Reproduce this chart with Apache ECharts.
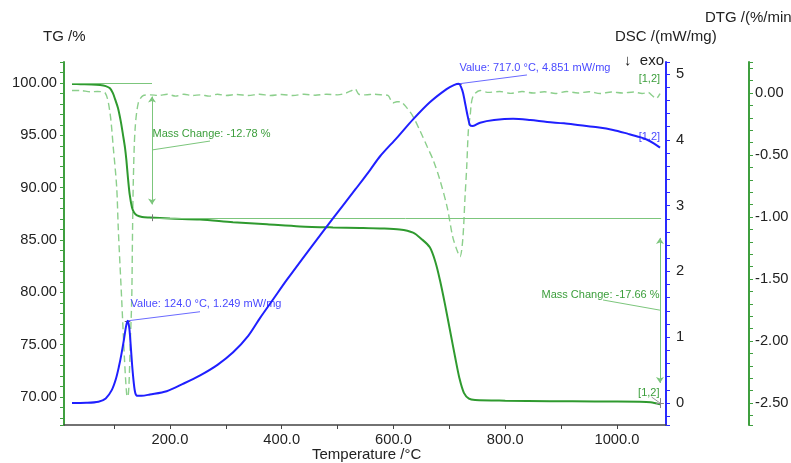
<!DOCTYPE html>
<html>
<head>
<meta charset="utf-8">
<title>TG-DSC-DTG</title>
<script src="https://cdn.jsdelivr.net/npm/echarts@6/dist/echarts.min.js"></script>
<style>
  html, body { margin: 0; padding: 0; background: #fff; }
  #chart { width: 791px; height: 463px; }
</style>
</head>
<body>
<div id="chart"></div>
<script>
// TG curve: temperature (°C) and mass (%)
var tgTemp = [24.6, 40, 60, 75, 85, 92.6, 98, 102, 106.9, 112, 116, 119.5, 122, 124.8, 128, 132, 136, 140.9, 150, 164, 200, 253.7, 312.7, 373.6, 432.6, 491.7, 540, 576, 611, 635, 650, 665, 675, 683, 692, 701, 710, 718, 726, 735, 746, 800, 880, 960, 1041, 1060, 1077];
var tgVal = [99.9, 99.88, 99.86, 99.8, 99.7, 99.5, 99.0, 98.4, 97.6, 96.3, 95.0, 93.8, 92.6, 90.9, 89.3, 88.1, 87.6, 87.35, 87.2, 87.15, 87.05, 86.95, 86.7, 86.5, 86.3, 86.2, 86.15, 86.1, 86.0, 85.7, 85.1, 84.3, 82.9, 81.2, 78.9, 76.4, 73.9, 71.8, 70.4, 69.85, 69.72, 69.65, 69.6, 69.58, 69.55, 69.5, 69.3];

// DSC curve: temperature (°C) and heat flow (mW/mg)
var dscTemp = [24.6, 50, 72, 85, 96, 103, 108.5, 113, 117.5, 121, 124, 127, 129.5, 132, 135, 138, 142, 149, 164, 194, 223, 254, 285, 313, 340, 361, 385, 409, 450, 492, 533, 558, 576, 606, 635, 665, 695, 708, 717, 721, 724.5, 729, 733, 737, 742, 755, 780, 814, 845, 875, 905, 934, 965, 993, 1020, 1041, 1054, 1065, 1077];
var dscVal = [0.0, 0.003, 0.02, 0.07, 0.2, 0.36, 0.55, 0.74, 0.96, 1.15, 1.249, 1.15, 0.9, 0.6, 0.32, 0.15, 0.11, 0.11, 0.13, 0.18, 0.29, 0.42, 0.58, 0.77, 1.02, 1.29, 1.58, 1.87, 2.34, 2.81, 3.26, 3.54, 3.75, 4.03, 4.31, 4.57, 4.77, 4.83, 4.851, 4.80, 4.71, 4.52, 4.35, 4.22, 4.21, 4.26, 4.3, 4.32, 4.3, 4.27, 4.25, 4.22, 4.19, 4.15, 4.09, 4.04, 4.0, 3.95, 3.88];

// DTG curve: temperature (°C) and rate (%/min)
var dtgTemp = [24.6, 40, 57, 70, 84, 92.6, 98.5, 104.6, 107.5, 113.6, 118.6, 122.5, 124.5, 126.6, 129, 131.5, 133, 134.4, 137.4, 143.3, 152.2, 165, 180, 195, 210, 225, 240, 255, 270, 285, 300, 320, 340, 360, 380, 400, 420, 440, 460, 480, 500, 515, 525, 531, 538, 550, 565, 580, 590, 599, 606, 612, 624, 635, 647, 660, 671, 683, 696, 706, 713, 719, 724, 728, 731, 734, 737, 742, 755, 770, 790, 810, 830, 850, 870, 890, 910, 930, 950, 970, 990, 1010, 1030, 1045, 1056, 1063, 1070, 1077];
var dtgVal = [0.02, 0.02, 0.01, 0.012, 0.0, -0.16, -0.44, -0.76, -1.10, -1.67, -2.15, -2.43, -2.45, -2.35, -2.0, -1.67, -1.1, -0.70, -0.30, -0.08, -0.02, -0.015, -0.02, -0.01, -0.025, -0.01, -0.02, -0.015, -0.025, -0.01, -0.02, -0.012, -0.02, -0.01, -0.02, -0.012, -0.02, -0.01, -0.018, -0.01, -0.015, 0.0, 0.02, 0.035, -0.01, -0.015, -0.01, -0.015, -0.02, -0.08, -0.07, -0.07, -0.12, -0.19, -0.30, -0.43, -0.54, -0.70, -0.92, -1.16, -1.26, -1.32, -1.18, -0.84, -0.60, -0.30, -0.19, -0.03, 0.02, 0.005, 0.012, -0.003, 0.012, 0.0, 0.01, -0.004, 0.012, 0.0, 0.01, -0.004, 0.008, 0.0, 0.008, -0.004, 0.004, -0.02, -0.045, -0.005];

// axis ranges
var tempRange = [10.3, 1087.7];
var tgRange = [67.33, 102.0];
var dscRange = [-0.334, 5.182];
var dtgRange = [-2.677, 0.25];

function pairs(xs, ys) {
  var out = [];
  for (var i = 0; i < xs.length; i++) out.push([xs[i], ys[i]]);
  return out;
}

var FONT = 'Liberation Sans, Arial, sans-serif';
var AX_GREEN = '#3f9f3f';
var AX_BLUE = '#2a2aff';
var NOTE_GREEN = '#7cc67c';
var TXT_GREEN = '#3b9e3b';
var TXT_BLUE = '#4a4aff';
var TICK_FS = 14.7;
var TITLE_FS = 15;

function textPoint(x, y, text, color, side) {
  return {
    coord: [x, y],
    symbol: 'circle',
    symbolSize: 1,
    itemStyle: { color: 'rgba(0,0,0,0)' },
    label: {
      show: true,
      position: side || 'right',
      distance: 0,
      formatter: text,
      color: color,
      fontSize: 11,
      fontFamily: FONT
    }
  };
}

function seg(x1, y1, x2, y2, color, arrows) {
  return [
    { coord: [x1, y1], symbol: arrows ? 'arrow' : 'none', lineStyle: { color: color, width: 1, type: 'solid' } },
    { coord: [x2, y2], symbol: arrows ? 'arrow' : 'none' }
  ];
}

function valueAxis(pos, offset, range, color, split, fmt, margin) {
  return {
    type: 'value',
    position: pos,
    offset: offset,
    min: range[0],
    max: range[1],
    splitNumber: split,
    scale: true,
    axisLine: { show: true, lineStyle: { color: color, width: 2 } },
    axisTick: { show: true, length: 4, lineStyle: { color: color, width: 1 } },
    minorTick: { show: true, splitNumber: 5, length: 4, lineStyle: { color: color, width: 1 } },
    splitLine: { show: false },
    axisLabel: {
      color: '#222', fontSize: TICK_FS, fontFamily: FONT, margin: margin,
      showMinLabel: false, showMaxLabel: false,
      formatter: fmt
    }
  };
}

var chart = echarts.init(document.getElementById('chart'));

var option = {
  animation: false,
  backgroundColor: '#fff',
  grid: { left: 64, right: 125, top: 62, bottom: 38, outerBoundsMode: 'none' },
  graphic: [
    { type: 'text', left: 43, top: 29, style: { text: 'TG /%', fontSize: TITLE_FS, fontFamily: FONT, fill: '#222' } },
    { type: 'text', left: 615, top: 29, style: { text: 'DSC /(mW/mg)', fontSize: TITLE_FS, fontFamily: FONT, fill: '#222' } },
    { type: 'text', left: 705, top: 10, style: { text: 'DTG /(%/min)', fontSize: TITLE_FS, fontFamily: FONT, fill: '#222' } },
    { type: 'text', left: 624, top: 53, style: { text: '\u2193  exo', fontSize: TITLE_FS, fontFamily: FONT, fill: '#222' } },
    { type: 'text', left: 312, top: 447, style: { text: 'Temperature /\u00b0C', fontSize: TITLE_FS, fontFamily: FONT, fill: '#222' } }
  ],
  xAxis: {
    type: 'value',
    min: tempRange[0],
    max: tempRange[1],
    splitNumber: 10,
    axisLine: { show: true, onZero: false, lineStyle: { color: '#444', width: 1.5 } },
    axisTick: { show: true, length: 4, lineStyle: { color: '#444' } },
    splitLine: { show: false },
    axisLabel: {
      color: '#222', fontSize: TICK_FS, fontFamily: FONT, margin: 7,
      showMinLabel: false, showMaxLabel: false,
      formatter: function (v) {
        return Math.abs(v / 200 - Math.round(v / 200)) < 1e-6 ? v.toFixed(1) : '';
      }
    }
  },
  yAxis: [
    valueAxis('left', 0, tgRange, AX_GREEN, 7, function (v) {
      return Math.abs(v / 5 - Math.round(v / 5)) < 1e-6 ? v.toFixed(2) : '';
    }, 7),
    valueAxis('right', 0, dscRange, AX_BLUE, 5, function (v) {
      return Math.abs(v - Math.round(v)) < 1e-6 ? String(Math.round(v)) : '';
    }, 10),
    valueAxis('right', 83, dtgRange, AX_GREEN, 6, function (v) {
      return Math.abs(v / 0.5 - Math.round(v / 0.5)) < 1e-6 ? v.toFixed(2) : '';
    }, 6)
  ],
  series: [
    {
      name: 'DTG',
      type: 'line',
      yAxisIndex: 2,
      data: pairs(dtgTemp, dtgVal),
      showSymbol: false,
      smooth: 0.3,
      z: 2,
      lineStyle: { color: '#8ccf8c', width: 1.4, type: [7, 4] },
      markPoint: {
        data: [textPoint(1078, 0.11, '[1,2]', TXT_GREEN, 'left')]
      }
    },
    {
      name: 'TG',
      type: 'line',
      yAxisIndex: 0,
      data: pairs(tgTemp, tgVal),
      showSymbol: false,
      smooth: 0.3,
      z: 4,
      lineStyle: { color: '#2f9a2f', width: 2 },
      markLine: {
        silent: true,
        symbolSize: 6,
        label: { show: false },
        data: [
          seg(24.6, 99.93, 167.8, 99.93, NOTE_GREEN),
          seg(164, 87.1, 1079, 87.1, NOTE_GREEN),
          seg(167.8, 98.7, 167.8, 88.4, NOTE_GREEN, true),
          seg(167.8, 93.6, 271.6, 94.45, NOTE_GREEN),
          seg(167.8, 87.45, 167.8, 86.8, '#777'),
          seg(1076.9, 85.2, 1076.9, 71.35, NOTE_GREEN, true),
          seg(975, 79.27, 1076.9, 78.3, NOTE_GREEN),
          seg(1062, 70.0, 1076.9, 69.43, '#999'),
          seg(1070, 69.43, 1084, 69.43, '#888'),
          seg(1076.9, 69.9, 1076.9, 68.95, '#888')
        ]
      },
      markPoint: {
        data: [
          textPoint(167.8, 95.13, 'Mass Change: -12.78 %', TXT_GREEN, 'right'),
          textPoint(1077, 79.75, 'Mass Change: -17.66 %', TXT_GREEN, 'left'),
          textPoint(1077, 70.4, '[1,2]', TXT_GREEN, 'left')
        ]
      }
    },
    {
      name: 'DSC',
      type: 'line',
      yAxisIndex: 1,
      data: pairs(dscTemp, dscVal),
      showSymbol: false,
      smooth: 0.3,
      z: 5,
      lineStyle: { color: '#1f1fff', width: 2 },
      markLine: {
        silent: true,
        label: { show: false },
        data: [
          seg(124, 1.249, 253.7, 1.387, '#6a6aff'),
          seg(717, 4.851, 838.9, 4.985, '#6a6aff'),
          seg(119, 1.249, 129, 1.249, '#666'),
          seg(717 - 5, 4.851, 717 + 5, 4.851, '#666')
        ]
      },
      markPoint: {
        data: [
          textPoint(128.4, 1.505, 'Value: 124.0 \u00b0C, 1.249 mW/mg', TXT_BLUE, 'right'),
          textPoint(717.2, 5.09, 'Value: 717.0 \u00b0C, 4.851 mW/mg', TXT_BLUE, 'right'),
          textPoint(1078, 4.04, '[1,2]', TXT_BLUE, 'left')
        ]
      }
    }
  ]
};

chart.setOption(option);
</script>
</body>
</html>
